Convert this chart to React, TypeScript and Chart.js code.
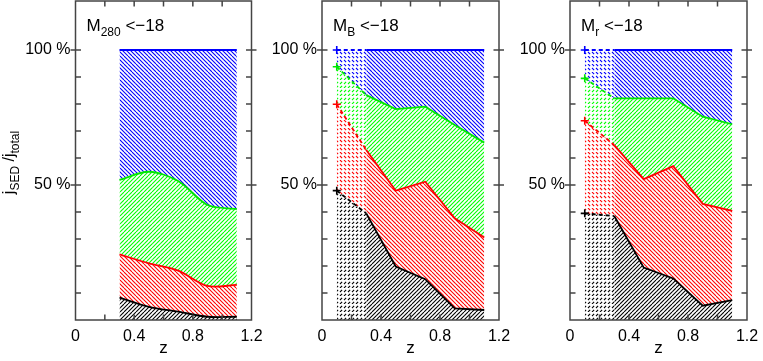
import React, { useEffect, useRef } from 'react';
import { Chart, registerables } from 'chart.js';
Chart.register(...registerables);

// ---------- data ----------
const zLate = [0.3, 0.5, 0.7, 0.9, 1.1];
const zAll = [0.1, 0.3, 0.5, 0.7, 0.9, 1.1];

// cumulative fractions (%), panel M280 < -18
const m280Black = [8.3, 4.9, 3.1, 1.2, 1.2];
const m280Red = [24.3, 21.0, 18.3, 12.6, 13.0];
const m280Green = [51.9, 54.9, 51.5, 42.6, 41.1];
const m280Blue = [100, 100, 100, 100, 100];

// panel MB < -18
const mBBlack = [47.9, 39.5, 19.8, 15.1, 4.3, 3.7];
const mBRed = [79.9, 63.0, 47.9, 51.2, 37.7, 30.6];
const mBGreen = [93.8, 83.3, 78.1, 79.0, 72.2, 65.7];
const mBBlue = [100, 100, 100, 100, 100, 100];

// panel Mr < -18
const mrBlack = [39.5, 38.5, 19.4, 15.4, 5.3, 7.4];
const mrRed = [73.8, 64.8, 52.2, 57.0, 43.0, 40.4];
const mrGreen = [89.5, 82.1, 82.1, 82.1, 75.3, 72.5];
const mrBlue = [100, 100, 100, 100, 100, 100];

const xTickValues = [0, 0.2, 0.4, 0.6, 0.8, 1.0, 1.2];
const xTickLabels = ['0', '0.4', '0.8', '1.2'];
const yTickValues = [10, 20, 30, 40, 50, 60, 70, 80, 90, 100];
const yTickLabels = ['50 %', '100 %'];
const yLabelValues = [50, 100];

const FONT = '"Liberation Sans", Arial, Helvetica, sans-serif';
const W = 763;
const H = 361;

type Key = 'black' | 'red' | 'green' | 'blue';
const KEYS: Key[] = ['black', 'red', 'green', 'blue'];
const lineColors: Record<Key, string> = { black: '#000000', red: '#ff0000', green: '#00e800', blue: '#0000ff' };
const hatchColors: Record<Key, string> = { black: '#000000', red: '#ff0000', green: '#00ff00', blue: '#0000ff' };
const hatchDir: Record<Key, number> = { black: -1, red: 1, green: -1, blue: 1 };

function makeHatch(color: string, dir: number, dashed: boolean) {
  const T = 8, s = 4;
  const c = document.createElement('canvas');
  c.width = T; c.height = T;
  const g = c.getContext('2d')!;
  g.strokeStyle = color;
  g.lineWidth = 1.1;
  if (dashed) g.setLineDash([3.0, 2.66]);
  for (let off = -T; off <= T; off += s) {
    g.beginPath();
    if (dir > 0) { g.moveTo(off, 0); g.lineTo(off + T, T); }
    else { g.moveTo(off, T); g.lineTo(off + T, 0); }
    g.stroke();
  }
  return g.createPattern(c, 'repeat')!;
}

const framePlugin = {
  id: 'frame',
  afterDatasetsDraw(chart: any) {
    const { ctx, chartArea: a, scales } = chart;
    const x = scales.x, y = scales.y;
    ctx.save();
    ctx.strokeStyle = '#444';
    ctx.lineWidth = 1.5;
    ctx.strokeRect(a.left, a.top, a.right - a.left, a.bottom - a.top);
    ctx.beginPath();
    for (const v of xTickValues.slice(1, -1)) {
      const px = x.getPixelForValue(v);
      ctx.moveTo(px, a.bottom); ctx.lineTo(px, a.bottom - 5.5);
      ctx.moveTo(px, a.top); ctx.lineTo(px, a.top + 5.5);
    }
    for (const v of yTickValues) {
      const py = y.getPixelForValue(v);
      const out = yLabelValues.includes(v) ? 5 : 0;
      ctx.moveTo(a.left - out, py); ctx.lineTo(a.left + 5.5, py);
      ctx.moveTo(a.right + out, py); ctx.lineTo(a.right - 5.5, py);
    }
    ctx.stroke();
    ctx.restore();
  },
};

const textPlugin = {
  id: 'panelText',
  afterDraw(chart: any, _args: any, opts: any) {
    const { ctx, chartArea: a } = chart;
    ctx.save();
    ctx.fillStyle = '#000';
    ctx.textBaseline = 'alphabetic';
    ctx.textAlign = 'left';
    let x = a.left + 11;
    const y = a.top + 30;
    for (const [txt, sub] of opts.title) {
      ctx.font = (sub ? '12px ' : '17px ') + FONT;
      ctx.fillText(txt, x, sub ? y + 4.5 : y);
      x += ctx.measureText(txt).width;
    }
    if (opts.yTitle) {
      const parts = opts.yTitle as [string, boolean][];
      const f = (sub: boolean) => (sub ? '12px ' : '16px ') + FONT;
      let total = 0;
      for (const [txt, sub] of parts) {
        ctx.font = f(sub);
        total += ctx.measureText(txt).width;
      }
      ctx.translate(14, (a.top + a.bottom) / 2 + 2);
      ctx.rotate(-Math.PI / 2);
      let t = -total / 2;
      for (const [txt, sub] of parts) {
        ctx.font = f(sub);
        ctx.fillText(txt, t, sub ? 4.5 : 0);
        t += ctx.measureText(txt).width;
      }
    }
    ctx.restore();
  },
};

type PanelDef = {
  xs: number[];
  vals: Record<Key, number[]>;
  left: number; right: number;
  title: [string, boolean][];
  yTitle?: [string, boolean][];
  early: boolean;
  tension: number;
};

const panels: PanelDef[] = [
  { xs: zLate, vals: { black: m280Black, red: m280Red, green: m280Green, blue: m280Blue }, left: 75.5, right: 251.5,
    title: [['M', false], ['280', true], [' <\u221218', false]],
    yTitle: [['j', false], ['SED', true], [' /', false], ['j', false], ['total', true]],
    early: false, tension: 0.3 },
  { xs: zAll, vals: { black: mBBlack, red: mBRed, green: mBGreen, blue: mBBlue }, left: 322, right: 499,
    title: [['M', false], ['B', true], [' <\u221218', false]], early: true, tension: 0 },
  { xs: zAll, vals: { black: mrBlack, red: mrRed, green: mrGreen, blue: mrBlue }, left: 570, right: 747,
    title: [['M', false], ['r', true], [' <\u221218', false]], early: true, tension: 0 },
];

function Panel({ def }: { def: PanelDef }) {
  const ref = useRef<HTMLCanvasElement>(null);
  useEffect(() => {
    const datasets: any[] = [];
    const addGroup = (from: number, to: number, dashed: boolean) => {
      const base = datasets.length;
      KEYS.forEach((key, k) => {
        const xs = def.xs.slice(from, to);
        const ys = def.vals[key].slice(from, to);
        datasets.push({
          label: key + (dashed ? '-early' : ''),
          data: xs.map((x, i) => ({ x, y: ys[i] })),
          borderColor: lineColors[key],
          borderWidth: 1.8,
          borderDash: dashed ? [4, 3] : [],
          backgroundColor: makeHatch(hatchColors[key], hatchDir[key], dashed),
          fill: k === 0 ? 'origin' : base + k - 1,
          tension: def.tension,
          pointStyle: 'cross',
          pointRadius: (c: any) => (dashed && c.dataIndex === 0 ? 4 : 0),
          pointBorderColor: lineColors[key],
          pointBorderWidth: 1.6,
        });
      });
    };
    if (def.early) {
      addGroup(0, 2, true);
      addGroup(1, def.xs.length, false);
    } else {
      addGroup(0, def.xs.length, false);
    }
    const chart = new Chart(ref.current!, {
      type: 'line',
      data: { datasets },
      options: {
        animation: false,
        responsive: false,
        devicePixelRatio: 1,
        layout: { autoPadding: false, padding: { left: def.left - 60, right: W - def.right, top: 1, bottom: 1 } },
        plugins: {
          legend: { display: false },
          tooltip: { enabled: false },
          panelText: { title: def.title, yTitle: def.yTitle },
        } as any,
        scales: {
          x: {
            type: 'linear', min: 0, max: 1.2,
            afterFit: (s: any) => { s.height = 40; s.paddingLeft = 0; s.paddingRight = 0; },
            grid: { display: false, drawTicks: false },
            border: { display: false },
            ticks: {
              stepSize: 0.2, autoSkip: false, maxRotation: 0, padding: 7,
              color: '#000', font: { family: FONT, size: 16 },
              callback: (v: any) => {
                const s = (Math.round(Number(v) * 10) / 10).toString();
                return xTickLabels.includes(s) ? s : '';
              },
            },
            title: { display: true, text: 'z', color: '#000', font: { family: FONT, size: 17 }, padding: { top: 0, bottom: 1 } },
          },
          y: {
            type: 'linear', min: 0, max: 118.15,
            afterFit: (s: any) => { s.width = 60; s.paddingTop = 0; s.paddingBottom = 0; },
            grid: { display: false, drawTicks: false },
            border: { display: false },
            ticks: {
              stepSize: 10, autoSkip: false, padding: 5,
              color: '#000', font: { family: FONT, size: 16 },
              callback: (v: any) => {
                const idx = yLabelValues.indexOf(Math.round(Number(v)));
                return idx >= 0 && Math.abs(Number(v) - yLabelValues[idx]) < 1e-6 ? yTickLabels[idx] : '';
              },
            },
          },
        },
      } as any,
      plugins: [framePlugin, textPlugin],
    });
    return () => chart.destroy();
  }, [def]);
  return (
    <canvas ref={ref} width={W} height={H}
      style={{ position: 'absolute', left: 0, top: 0, width: W, height: H }} />
  );
}

export default function App() {
  return (
    <div style={{ position: 'fixed', left: 0, top: 0, width: W, height: H, background: '#fff' }}>
      {panels.map((p, i) => <Panel key={i} def={p} />)}
    </div>
  );
}
